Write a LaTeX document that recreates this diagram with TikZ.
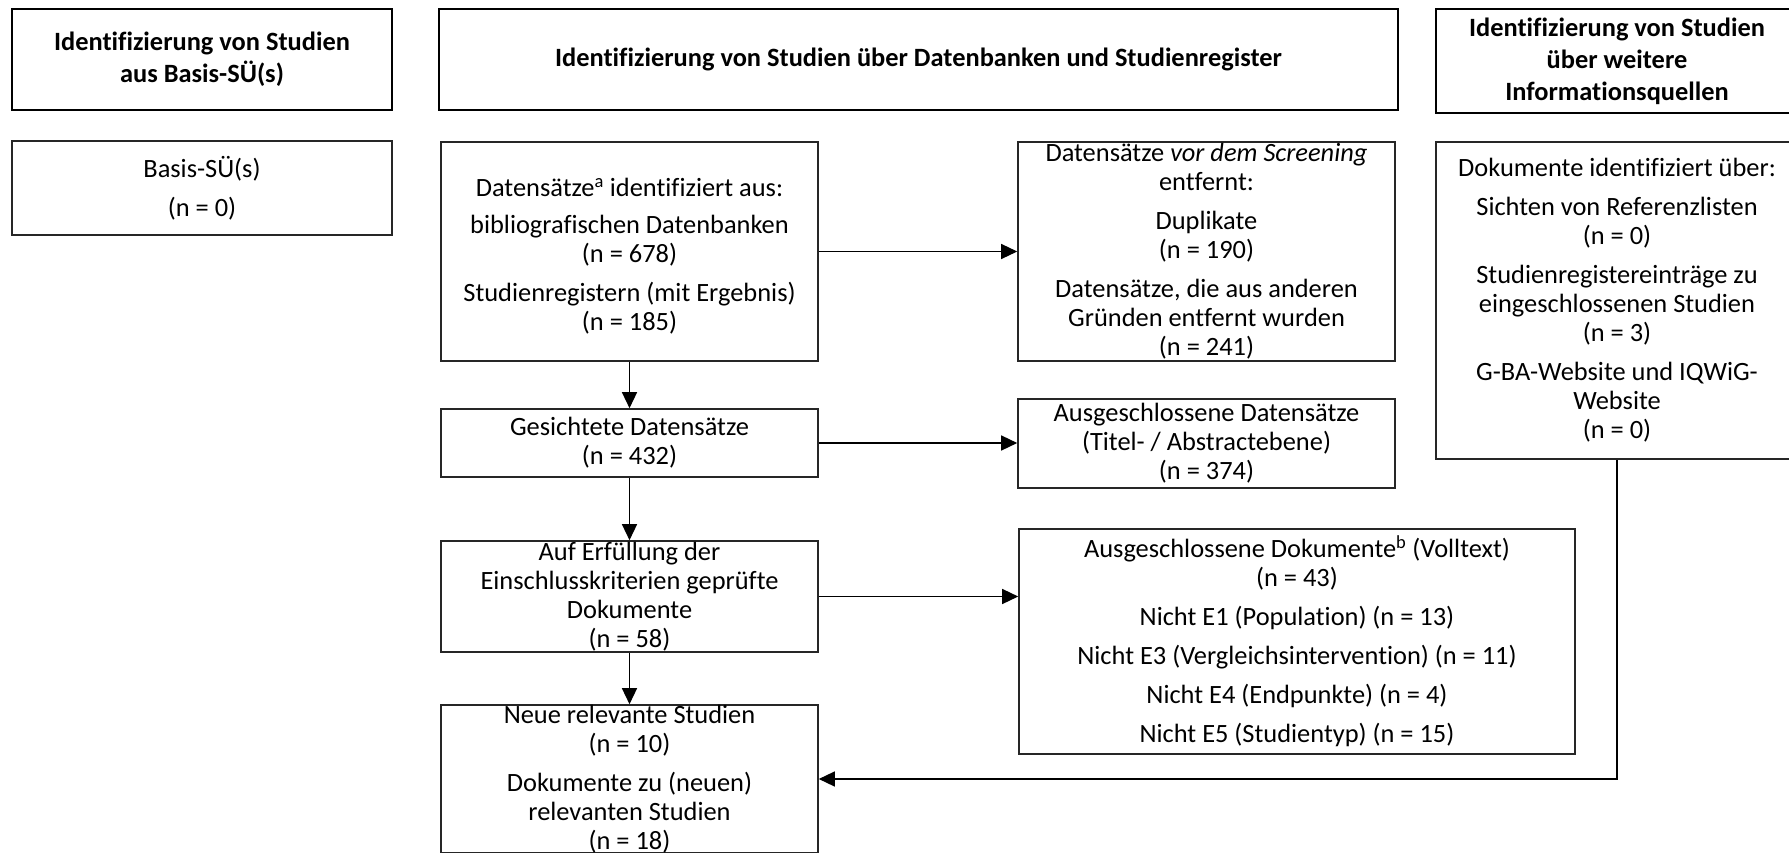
\documentclass[tikz,border=0pt]{standalone}
\usepackage{fontspec}
\setmainfont{Carlito}[Ligatures={NoCommon,NoContextual}]
\usetikzlibrary{arrows.meta}
\begin{document}
\begin{tikzpicture}[x=1pt,y=-1pt,
  box/.style={draw=black!85, line width=1.6pt, inner sep=0pt, align=center,
    font=\fontsize{26.4}{29}\selectfont},
  head/.style={draw=black, line width=2.8pt, inner sep=0pt, align=center,
    font=\bfseries\fontsize{26.4}{32}\selectfont},
  arr/.style={draw=black, line width=1.4pt, -{Triangle[length=16pt,width=15pt]}}]
\useasboundingbox (0,0) rectangle (1789,853);
\fill[white] (0,0) rectangle (1789,853);
\clip (0,0) rectangle (1789,853);
% headers
\node[head, minimum width=380pt, minimum height=101pt] (h1) at (202,59.5)
  {Identifizierung von Studien\\aus Basis-SÜ(s)};
\node[head, minimum width=959pt, minimum height=101pt] (h2) at (918.5,59.5)
  {Identifizierung von Studien über Datenbanken und Studienregister};
\node[head, minimum width=362pt, minimum height=104pt] (h3) at (1617,61)
  {Identifizierung von Studien\\über weitere\\Informationsquellen};
% left column
\node[box, minimum width=380pt, minimum height=94pt] (basis) at (202,188)
  {Basis-SÜ(s)\\[10pt](n = 0)};
% middle column
\node[box, minimum width=377pt, minimum height=219pt] (datens) at (629.5,251.5)
  {\rule{0pt}{27pt}Datensätze\textsuperscript{a} identifiziert aus:\\[8pt]
   bibliografischen Datenbanken\\(n = 678)\\[10pt]
   Studienregistern (mit Ergebnis)\\(n = 185)};
\node[box, minimum width=377pt, minimum height=219pt] (removed) at (1206.5,251.5)
  {Datensätze \textit{vor dem Screening}\\entfernt:\\[10pt]
   Duplikate\\(n = 190)\\[10pt]
   Datensätze, die aus anderen\\Gründen entfernt wurden\\(n = 241)};
\node[box, minimum width=377pt, minimum height=68pt] (ges) at (629.5,443)
  {Gesichtete Datensätze\\(n = 432)};
\node[box, minimum width=377pt, minimum height=89pt] (ausdat) at (1206.5,443.5)
  {Ausgeschlossene Datensätze\\(Titel- / Abstractebene)\\(n = 374)};
\node[box, minimum width=377pt, minimum height=111pt] (auferf) at (629.5,596.5)
  {Auf Erfüllung der\\Einschlusskriterien geprüfte\\Dokumente\\(n = 58)};
\node[box, minimum width=556pt, minimum height=225pt] (ausdok) at (1297,641.5)
  {Ausgeschlossene Dokumente\textsuperscript{b} (Volltext)\\(n = 43)\\[10pt]
   Nicht E1 (Population) (n = 13)\\[10pt]
   Nicht E3 (Vergleichsintervention) (n = 11)\\[10pt]
   Nicht E4 (Endpunkte) (n = 4)\\[10pt]
   Nicht E5 (Studientyp) (n = 15)};
\node[box, minimum width=377pt, minimum height=146pt] (neue) at (629.5,779)
  {Neue relevante Studien\\(n = 10)\\[10pt]
   Dokumente zu (neuen)\\relevanten Studien\\(n = 18)};
% right column
\node[box, minimum width=362pt, minimum height=317pt] (right) at (1617,300.5)
  {Dokumente identifiziert über:\\[10pt]
   Sichten von Referenzlisten\\(n = 0)\\[10pt]
   Studienregistereinträge zu\\eingeschlossenen Studien\\(n = 3)\\[10pt]
   G-BA-Website und IQWiG-\\Website\\(n = 0)};
% connectors
\draw[arr] (datens.east) -- (removed.west);
\draw[arr] (datens.south) -- (ges.north);
\draw[arr] (ges.east) -- (ges.east -| ausdat.west);
\draw[arr] (ges.south) -- (auferf.north);
\draw[arr] (auferf.east) -- (auferf.east -| ausdok.west);
\draw[arr] (auferf.south) -- (neue.north);
\draw[arr] (right.south) |- (neue.east);
\end{tikzpicture}
\end{document}
